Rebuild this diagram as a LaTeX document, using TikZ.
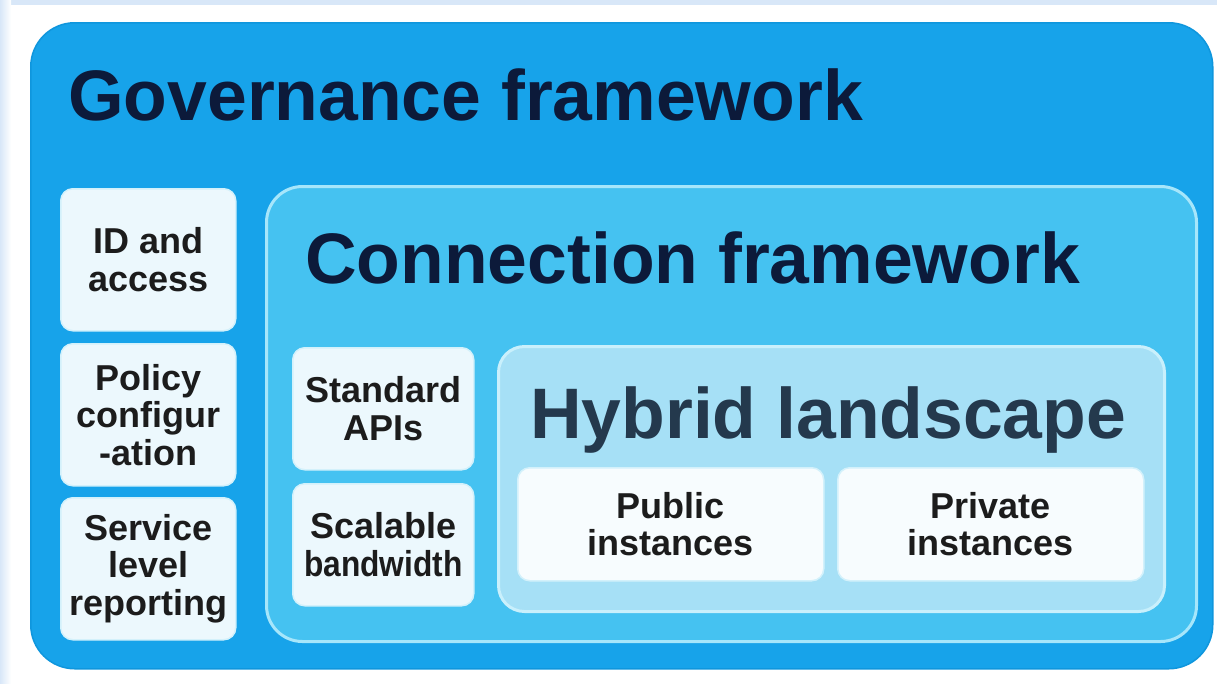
\documentclass[tikz,border=0pt]{standalone}
\usepackage{fontspec}
\setmainfont{Liberation Sans}
\usepackage{graphicx}
\usetikzlibrary{positioning}

\definecolor{BgBlue}{HTML}{D8E7F8}
\definecolor{OuterBlue}{HTML}{17A3EA}
\definecolor{OuterEdge}{HTML}{0F96DD}
\definecolor{ConnFill}{HTML}{45C2F1}
\definecolor{ConnEdge}{HTML}{A6E6FB}
\definecolor{HybFill}{HTML}{A6E0F6}
\definecolor{HybEdge}{HTML}{C9F0FC}
\definecolor{ItemFill}{HTML}{ECF8FD}
\definecolor{ItemEdge}{HTML}{D3F1FB}
\definecolor{TitleNavy}{HTML}{0C1A3A}
\definecolor{HybText}{HTML}{24394D}
\definecolor{ItemText}{HTML}{1C1C1C}

\begin{document}
\begin{tikzpicture}
	[
	x=1pt, y=-1pt,																%1 Pixel = 1pt, y nach unten
	OuterBox/.style={draw=OuterEdge, line width=1.5, fill=OuterBlue, rounded corners=44, anchor=north west, inner sep=0},	%Governance-Rahmen
	ConnBox/.style={draw=ConnEdge, line width=3, fill=ConnFill, rounded corners=36, anchor=north west, inner sep=0},		%Connection-Rahmen
	HybBox/.style={draw=HybEdge, line width=3, fill=HybFill, rounded corners=26, anchor=north west, inner sep=0},			%Hybrid-Rahmen
	ItemBox/.style={draw=ItemEdge, line width=1.5, fill=ItemFill, rounded corners=12, anchor=north west, inner sep=0,
		align=center, text=ItemText, font=\fontsize{36}{37.5}\selectfont\bfseries},									%Kleine Kaesten
	TitleText/.style={anchor=base west, inner sep=0, font=\fontsize{71.5}{80}\selectfont\bfseries}						%Ueberschriften
	]

	%% Masse der Kaesten %%
	\def\ItemW{175}		%Breite linke Spalte
	\def\ItemH{142}		%Hoehe linke Spalte
	\def\MidW{181}		%Breite mittlere Spalte
	\def\MidH{122}		%Hoehe mittlere Spalte
	\def\InstW{306}		%Breite Instanzen
	\def\InstH{113}		%Hoehe Instanzen

	\useasboundingbox (0,0) rectangle (1217,683);
	% Hintergrund
	\fill[white] (0,0) rectangle (1217,683);
	\fill[BgBlue] (0,0) rectangle (1217,5);
	\shade[left color=BgBlue, right color=white] (0,0) rectangle (11,683);

	%%%%%%%%%%%%%%%%%%%%%%%% Rahmen %%%%%%%%%%%%%%%%%%%%%%%%
	\node[OuterBox, minimum width=1182, minimum height=646] (gov)  at (30,22)   {};
	\node[ConnBox,  minimum width=930,  minimum height=455] (conn) at (265,185) {};
	\node[HybBox,   minimum width=666,  minimum height=265] (hyb)  at (497,345) {};

	% Ueberschriften
	\node[TitleText, text=TitleNavy] (govTitle)  at (68,120)  {Governance framework};
	\node[TitleText, text=TitleNavy] (connTitle) at (305,283) {Connection framework};
	\node[TitleText, text=HybText]   (hybTitle)  at (530,438) {Hybrid landscape};

	%%%%%%%%%%%%%%%%%%%%%%%% Linke Spalte %%%%%%%%%%%%%%%%%%%%%%%%
	\node[ItemBox, minimum width=\ItemW, minimum height=\ItemH] (idAccess) at (60,188) {ID and\\access};
	\node[ItemBox, minimum width=\ItemW, minimum height=\ItemH] (policy)   at (60,343) {Policy\\configur\\-ation};
	\node[ItemBox, minimum width=\ItemW, minimum height=\ItemH] (service)  at (60,497) {Service\\level\\reporting};

	%%%%%%%%%%%%%%%%%%%%%%%% Mittlere Spalte %%%%%%%%%%%%%%%%%%%%%%%%
	\node[ItemBox, minimum width=\MidW, minimum height=\MidH] (stdApi)    at (292,347) {Standard\\APIs};
	\node[ItemBox, minimum width=\MidW, minimum height=\MidH] (bandwidth) at (292,483) {Scalable\\\scalebox{0.88}[1]{bandwidth}};

	%%%%%%%%%%%%%%%%%%%%%%%% Instanzen %%%%%%%%%%%%%%%%%%%%%%%%
	\node[ItemBox, minimum width=\InstW, minimum height=\InstH, fill=white!60!ItemFill] (publicInst)  at (517,467) {Public\\instances};
	\node[ItemBox, minimum width=\InstW, minimum height=\InstH, fill=white!60!ItemFill] (privateInst) at (837,467) {Private\\instances};
\end{tikzpicture}
\end{document}
